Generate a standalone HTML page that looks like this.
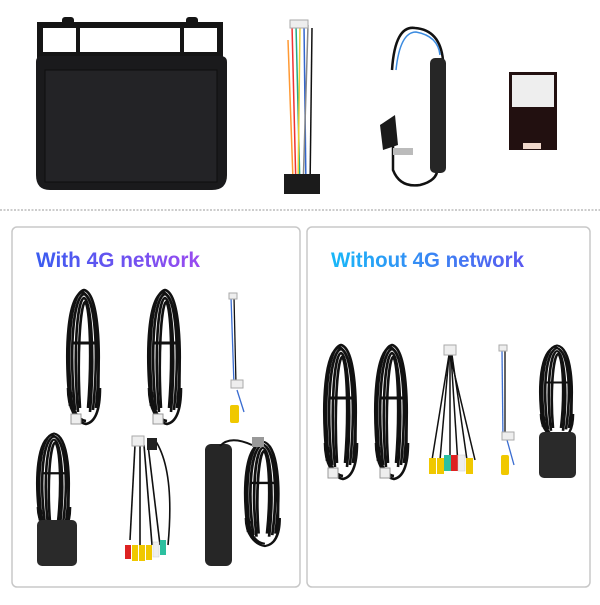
<!DOCTYPE html>
<html><head><meta charset="utf-8"><style>
body{margin:0;background:#fff;width:600px;height:600px;overflow:hidden;font-family:"Liberation Sans",sans-serif}
</style></head><body>
<svg width="600" height="600" viewBox="0 0 600 600" xmlns="http://www.w3.org/2000/svg">
<defs>
<linearGradient id="g1" x1="0" x2="1"><stop offset="0" stop-color="#3a5cf0"/><stop offset="1" stop-color="#9a4bf0"/></linearGradient>
<linearGradient id="g2" x1="0" x2="1"><stop offset="0" stop-color="#18b8f8"/><stop offset="1" stop-color="#5a58f0"/></linearGradient>
<g id="coil" fill="none" stroke="#111" stroke-width="2.6">
<path d="M4 120 C-2 60 2 5 16 2 C30 5 34 60 28 120"/>
<path d="M7 122 C1 62 5 9 16 6 C27 9 31 62 25 122"/>
<path d="M2 118 C-4 58 0 10 14 4 C28 10 32 58 30 118"/>
<path d="M10 124 C5 66 9 12 16 10 C23 12 27 66 22 124"/>
<path d="M12 120 C9 70 12 18 17 14 C22 18 24 70 20 120"/>
<path d="M0 100 C0 120 8 134 18 136 C28 134 32 120 32 100"/>
<path d="M3 104 C3 122 10 132 18 133"/>
<path d="M4 55 L28 55" stroke-width="3"/>
</g>
</defs>
<!-- head unit -->
<rect x="40" y="25" width="180" height="30" fill="none" stroke="#151515" stroke-width="6"/>
<line x1="78" y1="25" x2="78" y2="55" stroke="#151515" stroke-width="4"/>
<line x1="182" y1="25" x2="182" y2="55" stroke="#151515" stroke-width="4"/>
<rect x="62" y="17" width="12" height="10" rx="3" fill="#151515"/>
<rect x="186" y="17" width="12" height="10" rx="3" fill="#151515"/>
<path d="M36 62 Q36 56 42 56 L220 56 Q227 56 227 62 L227 175 Q227 190 212 190 L50 190 Q36 190 36 175 Z" fill="#1a1a1c"/>
<rect x="45" y="70" width="172" height="112" fill="#232326"/>
<rect x="45" y="70" width="172" height="112" fill="none" stroke="#0e0e0e" stroke-width="1"/>
<!-- harness -->
<g stroke-width="1.5" fill="none">
<path d="M292 25 L296 190" stroke="#e33"/><path d="M296 25 L300 190" stroke="#2a8"/>
<path d="M300 25 L298 190" stroke="#ec3"/><path d="M304 25 L306 190" stroke="#36c"/>
<path d="M308 25 L303 190" stroke="#888"/><path d="M312 28 L310 190" stroke="#111"/>
<path d="M288 40 L293 180" stroke="#f93"/>
</g>
<rect x="290" y="20" width="18" height="8" fill="#eee" stroke="#aaa"/>
<rect x="284" y="174" width="36" height="20" fill="#1b1b1b"/>
<!-- antenna adapter -->
<g fill="none" stroke="#111" stroke-width="2.5">
<path d="M392 70 Q395 25 415 28 Q440 30 443 60"/>
<path d="M393 120 L393 170 Q400 188 420 185 Q440 180 437 165"/>
</g>
<path d="M396 70 Q400 32 416 32 Q438 36 440 55" fill="none" stroke="#3b8be0" stroke-width="1.5"/>
<rect x="430" y="58" width="16" height="115" rx="5" fill="#262626"/>
<path d="M383 150 L380 125 L395 115 L398 145 Z" fill="#1a1a1a"/>
<rect x="393" y="148" width="20" height="7" fill="#bbb"/>
<!-- module -->
<rect x="509" y="72" width="48" height="78" fill="#221010"/>
<rect x="512" y="75" width="42" height="32" fill="#eee"/>
<rect x="523" y="143" width="18" height="6" fill="#f0d8cc"/>
<!-- dotted line -->
<line x1="0" y1="210" x2="600" y2="210" stroke="#999" stroke-width="1" stroke-dasharray="2,1.5"/>
<!-- panels -->
<rect x="12" y="227" width="288" height="360" rx="5" fill="#fff" stroke="#c8c8c8" stroke-width="1.5"/>
<rect x="307" y="227" width="283" height="360" rx="5" fill="#fff" stroke="#c8c8c8" stroke-width="1.5"/>
<text x="36" y="267" font-size="21" font-weight="bold" fill="url(#g1)" textLength="164" lengthAdjust="spacingAndGlyphs">With 4G network</text>
<text x="331" y="267" font-size="21" font-weight="bold" fill="url(#g2)" textLength="193" lengthAdjust="spacingAndGlyphs">Without 4G network</text>
<!-- left panel items -->
<use href="#coil" x="68" y="288"/>
<use href="#coil" x="149" y="288"/>
<rect x="71" y="414" width="10" height="10" fill="#eee" stroke="#999"/>
<rect x="153" y="414" width="10" height="10" fill="#eee" stroke="#999"/>
<g fill="none" stroke-width="1.3"><path d="M231 297 L234 385" stroke="#3a6cd0"/><path d="M234 297 L236 385" stroke="#111"/><path d="M237 390 L244 412" stroke="#3a6cd0"/></g>
<rect x="229" y="293" width="8" height="6" fill="#eee" stroke="#aaa"/>
<rect x="231" y="380" width="12" height="8" fill="#eee" stroke="#aaa"/>
<rect x="230" y="405" width="9" height="18" rx="2" fill="#f0c800"/>
<g transform="translate(38,432) scale(1,0.75)"><use href="#coil"/></g>
<rect x="37" y="520" width="40" height="46" rx="5" fill="#2a2a2a"/>
<g fill="none" stroke="#111" stroke-width="1.6">
<path d="M135 445 L130 540"/><path d="M140 445 L140 545"/><path d="M144 445 L152 545"/><path d="M148 445 L160 545"/><path d="M155 440 Q175 470 168 545"/>
</g>
<rect x="132" y="436" width="12" height="10" fill="#eee" stroke="#aaa"/>
<rect x="147" y="438" width="10" height="12" fill="#222"/>
<rect x="125" y="545" width="6" height="14" fill="#d22"/><rect x="132" y="545" width="6" height="16" fill="#f0c800"/><rect x="139" y="545" width="6" height="16" fill="#f0c800"/><rect x="146" y="545" width="6" height="15" fill="#f0c800"/><rect x="153" y="542" width="6" height="15" fill="#eee" stroke="#ccc" stroke-width=".5"/><rect x="160" y="540" width="6" height="15" fill="#2cc0a0"/>
<rect x="205" y="444" width="27" height="122" rx="6" fill="#262626"/>
<path d="M220 446 Q230 435 252 445" fill="none" stroke="#111" stroke-width="2"/>
<g transform="translate(246,440) scale(1.05,0.78)"><use href="#coil"/></g>
<rect x="252" y="437" width="12" height="10" fill="#999"/>
<!-- right panel items -->
<use href="#coil" x="325" y="343"/>
<use href="#coil" x="376" y="343"/>
<rect x="328" y="468" width="10" height="10" fill="#eee" stroke="#999"/>
<rect x="380" y="468" width="10" height="10" fill="#eee" stroke="#999"/>
<g fill="none" stroke="#111" stroke-width="1.5">
<path d="M449 355 L432 460"/><path d="M449 355 L440 460"/><path d="M450 355 L450 465"/><path d="M451 355 L458 465"/><path d="M452 355 L467 460"/><path d="M450 355 L475 460"/>
</g>
<rect x="444" y="345" width="12" height="10" fill="#eee" stroke="#aaa"/>
<rect x="429" y="458" width="7" height="16" fill="#f0c800"/><rect x="437" y="458" width="7" height="16" fill="#f0c800"/><rect x="444" y="455" width="7" height="16" fill="#2cc0a0"/><rect x="451" y="455" width="7" height="16" fill="#d22"/><rect x="458" y="455" width="7" height="16" fill="#eee" stroke="#ccc" stroke-width=".5"/><rect x="466" y="458" width="7" height="16" fill="#f0c800"/>
<g fill="none" stroke-width="1.3"><path d="M502 350 L503 440" stroke="#3a6cd0"/><path d="M505 350 L505 440" stroke="#111"/><path d="M507 440 L514 465" stroke="#3a6cd0"/></g>
<rect x="499" y="345" width="8" height="6" fill="#eee" stroke="#aaa"/>
<rect x="502" y="432" width="12" height="8" fill="#eee" stroke="#aaa"/>
<rect x="501" y="455" width="8" height="20" rx="2" fill="#f0c800"/>
<g transform="translate(541,344) scale(1,0.7)"><use href="#coil"/></g>
<rect x="539" y="432" width="37" height="46" rx="5" fill="#2a2a2a"/>
</svg>
</body></html>
